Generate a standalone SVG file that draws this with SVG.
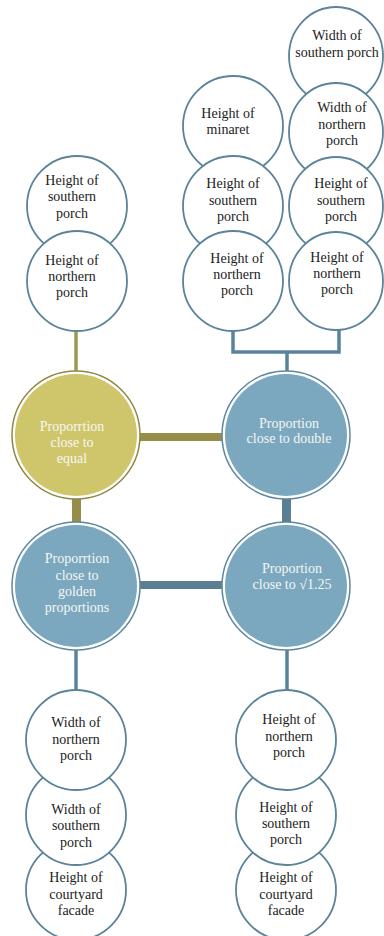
<svg xmlns="http://www.w3.org/2000/svg" width="384" height="936" viewBox="0 0 384 936">
  <style>
    .leaf { fill: #ffffff; stroke: #5b8399; stroke-width: 1.8; }
    .lt { font-family: 'Liberation Serif', 'DejaVu Serif', serif; font-size: 14px; fill: #222222; text-anchor: middle; }
    .ht { font-family: 'Liberation Serif', 'DejaVu Serif', serif; font-size: 14px; fill: #f6f6f2; text-anchor: middle; }
    .ring-o { fill: #ffffff; stroke: #8e8a46; stroke-width: 1.5; }
    .ring-b { fill: #ffffff; stroke: #5e889e; stroke-width: 1.5; }
    .hub-o { fill: #cfc66c; }
    .hub-b { fill: #7ba8bf; }
    .thin-o { stroke: #9d984f; stroke-width: 3.5; fill: none; }
    .thin-b { stroke: #57849a; stroke-width: 3.5; fill: none; }
    .bar-o { fill: #958d48; }
    .bar-b { fill: #5a7e92; }
  </style>

  <!-- connectors -->
  <g id="connectors">
    <line class="thin-o" x1="76" y1="330" x2="76" y2="374"/>
    <path class="thin-b" d="M233,330 V352 H339 V330 M287,352 V374"/>
    <rect class="bar-o" x="136" y="433" width="90" height="8"/>
    <rect class="bar-o" x="72" y="495" width="9" height="30"/>
    <rect class="bar-b" x="282" y="495" width="9" height="30"/>
    <rect class="bar-b" x="136" y="581" width="90" height="8"/>
    <line class="thin-b" x1="76" y1="648" x2="76" y2="692"/>
    <line class="thin-b" x1="287" y1="648" x2="287" y2="692"/>
  </g>

  <!-- top-right cluster, right column (farthest drawn first) -->
  <g id="tr-width-southern">
    <ellipse class="leaf" cx="336" cy="56" rx="47" ry="49"/>
    <text class="lt" x="337" y="40">Width of</text>
    <text class="lt" x="337" y="57">southern porch</text>
  </g>
  <g id="tr-width-northern">
    <ellipse class="leaf" cx="336" cy="132" rx="47" ry="49"/>
    <text class="lt" x="342" y="112">Width of</text>
    <text class="lt" x="342" y="129">northern</text>
    <text class="lt" x="342" y="145">porch</text>
  </g>
  <g id="tr-height-southern">
    <ellipse class="leaf" cx="336" cy="206" rx="47" ry="49"/>
    <text class="lt" x="341" y="188">Height of</text>
    <text class="lt" x="341" y="205">southern</text>
    <text class="lt" x="341" y="221">porch</text>
  </g>
  <g id="tr-height-northern">
    <ellipse class="leaf" cx="336" cy="281" rx="47" ry="49"/>
    <text class="lt" x="337" y="262">Height of</text>
    <text class="lt" x="337" y="278">northern</text>
    <text class="lt" x="337" y="294">porch</text>
  </g>

  <!-- top-right cluster, left column -->
  <g id="tl-height-minaret">
    <circle class="leaf" cx="233" cy="126" r="50"/>
    <text class="lt" x="228" y="118">Height of</text>
    <text class="lt" x="228" y="134">minaret</text>
  </g>
  <g id="tl-height-southern">
    <circle class="leaf" cx="233" cy="206" r="50"/>
    <text class="lt" x="233" y="188">Height of</text>
    <text class="lt" x="233" y="205">southern</text>
    <text class="lt" x="233" y="221">porch</text>
  </g>
  <g id="tl-height-northern">
    <circle class="leaf" cx="233" cy="281" r="50"/>
    <text class="lt" x="237" y="263">Height of</text>
    <text class="lt" x="237" y="279">northern</text>
    <text class="lt" x="237" y="295">porch</text>
  </g>

  <!-- top-left cluster -->
  <g id="eq-height-southern">
    <circle class="leaf" cx="77" cy="206" r="50"/>
    <text class="lt" x="72" y="185">Height of</text>
    <text class="lt" x="72" y="201">southern</text>
    <text class="lt" x="72" y="218">porch</text>
  </g>
  <g id="eq-height-northern">
    <circle class="leaf" cx="77" cy="281" r="50"/>
    <text class="lt" x="72" y="265">Height of</text>
    <text class="lt" x="72" y="281">northern</text>
    <text class="lt" x="72" y="297">porch</text>
  </g>

  <!-- hubs -->
  <g id="hub-equal">
    <circle class="ring-o" cx="76" cy="435" r="64"/>
    <circle class="hub-o" cx="76" cy="435" r="61"/>
    <text class="ht" x="72" y="431">Proporrtion</text>
    <text class="ht" x="72" y="447">close to</text>
    <text class="ht" x="72" y="463">equal</text>
  </g>
  <g id="hub-double">
    <circle class="ring-b" cx="286" cy="435" r="64"/>
    <circle class="hub-b" cx="286" cy="435" r="61"/>
    <text class="ht" x="289" y="428">Proportion</text>
    <text class="ht" x="289" y="443">close to double</text>
  </g>
  <g id="hub-golden">
    <circle class="ring-b" cx="76" cy="586" r="64"/>
    <circle class="hub-b" cx="76" cy="586" r="61"/>
    <text class="ht" x="77" y="563">Proporrtion</text>
    <text class="ht" x="77" y="580">close to</text>
    <text class="ht" x="77" y="596">golden</text>
    <text class="ht" x="77" y="612">proportions</text>
  </g>
  <g id="hub-root">
    <circle class="ring-b" cx="286" cy="586" r="64"/>
    <circle class="hub-b" cx="286" cy="586" r="61"/>
    <text class="ht" x="292" y="573">Proportion</text>
    <text class="ht" x="292" y="589">close to √1.25</text>
  </g>

  <!-- bottom-left cluster (farthest drawn first) -->
  <g id="gd-height-courtyard">
    <circle class="leaf" cx="76" cy="890" r="50"/>
    <text class="lt" x="76" y="882">Height of</text>
    <text class="lt" x="76" y="899">courtyard</text>
    <text class="lt" x="76" y="915">facade</text>
  </g>
  <g id="gd-width-southern">
    <circle class="leaf" cx="76" cy="815" r="50"/>
    <text class="lt" x="76" y="814">Width of</text>
    <text class="lt" x="76" y="830">southern</text>
    <text class="lt" x="76" y="847">porch</text>
  </g>
  <g id="gd-width-northern">
    <circle class="leaf" cx="76" cy="740" r="50"/>
    <text class="lt" x="76" y="727">Width of</text>
    <text class="lt" x="76" y="744">northern</text>
    <text class="lt" x="76" y="760">porch</text>
  </g>

  <!-- bottom-right cluster -->
  <g id="rt-height-courtyard">
    <circle class="leaf" cx="286" cy="890" r="50"/>
    <text class="lt" x="286" y="882">Height of</text>
    <text class="lt" x="286" y="899">courtyard</text>
    <text class="lt" x="286" y="915">facade</text>
  </g>
  <g id="rt-height-southern">
    <circle class="leaf" cx="286" cy="815" r="50"/>
    <text class="lt" x="286" y="812">Height of</text>
    <text class="lt" x="286" y="828">southern</text>
    <text class="lt" x="286" y="844">porch</text>
  </g>
  <g id="rt-height-northern">
    <circle class="leaf" cx="286" cy="740" r="50"/>
    <text class="lt" x="289" y="724">Height of</text>
    <text class="lt" x="289" y="741">northern</text>
    <text class="lt" x="289" y="757">porch</text>
  </g>
</svg>
